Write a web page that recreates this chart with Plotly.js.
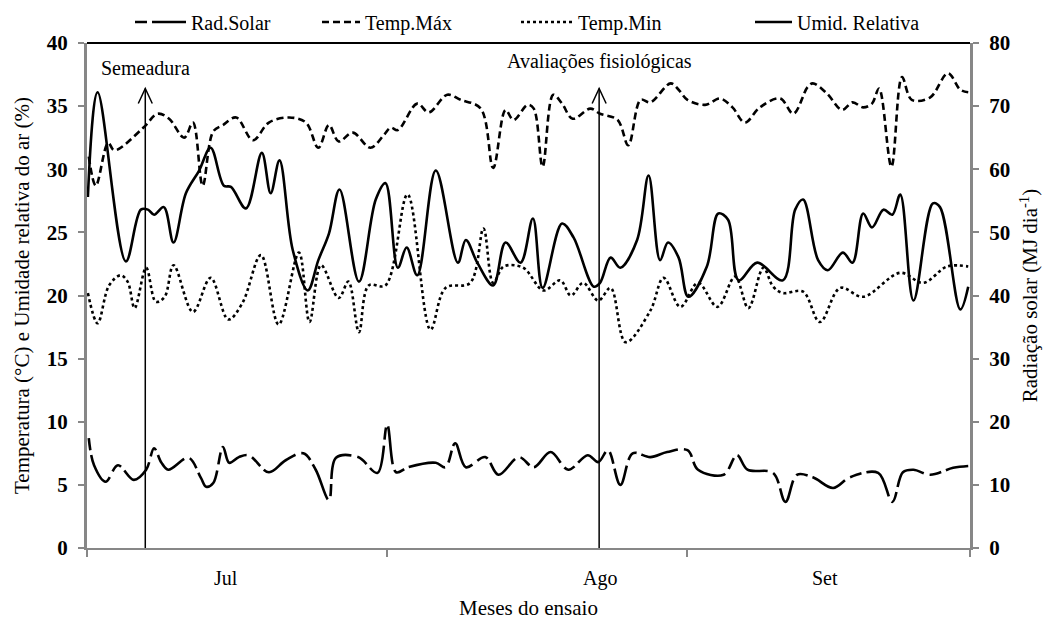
<!DOCTYPE html>
<html><head><meta charset="utf-8">
<script src="https://cdn.plot.ly/plotly-3.0.1.min.js"></script>
<style>body{margin:0;background:#fff}#chart{width:1049px;height:623px}</style>
</head><body><div id="chart"></div><script>
// ---- data (day index from start of the trial) ----
const radDays = [0.2,0.8,2.1,3.5,5.3,6.7,7.6,8.4,9.2,11.5,12.9,13.5,14.3,15.4,16.1,17.2,18.3,20.6,22.5,24.5,25.9,27.4,28.2,30.7,32.9,34.0,35.0,36.4,39.5,40.6,41.7,42.9,45.1,46.6,48.9,50.6,52.5,54.5,56.7,57.9,59.0,60.4,61.8,63.8,65.7,68.0,69.2,72.1,73.6,74.8,77.7,79.1,80.4,82.2,84.5,86.4,89.6,91.2,92.4,93.6,95.5,98.1,99.8];
const radVals = [17.4,13.1,10.5,13.1,10.8,12.4,15.8,13.6,12.4,14.3,11.1,9.7,10.3,16.0,13.5,14.4,14.7,12.0,13.9,15.0,12.4,7.6,14.3,14.4,11.9,19.5,12.0,12.8,13.5,12.8,16.6,12.8,14.4,11.6,14.4,12.8,15.2,12.4,14.7,13.6,15.5,10.0,15.0,14.4,15.2,15.5,12.4,11.6,14.7,12.4,11.9,7.3,11.6,11.2,9.5,11.2,11.9,7.3,12.0,12.4,11.6,12.7,13.0];

const tmaxDays = [0.2,1.0,2.4,3.1,6.4,8.0,9.3,11.0,12.0,13.1,14.3,15.4,16.9,18.8,20.6,22.9,24.8,26.2,27.4,28.5,30.1,32.1,33.6,34.4,35.2,37.4,38.7,40.8,42.3,44.6,46.0,47.4,48.3,49.9,50.6,51.6,52.8,53.8,55.0,57.0,58.1,60.1,61.3,62.7,63.8,66.1,67.0,68.0,70.0,71.7,73.1,74.5,76.2,78.5,80.0,81.6,82.2,83.8,85.5,86.7,87.9,88.9,89.7,91.1,92.3,93.4,95.5,97.5,98.9,99.8];
const tmaxVals = [31.0,28.7,32.1,31.5,33.3,34.4,34.0,32.5,33.7,28.7,33.0,33.5,34.1,32.3,33.7,34.1,33.7,31.7,33.5,32.2,32.9,31.7,32.7,33.3,33.1,35.2,34.5,35.9,35.5,34.8,30.1,34.7,33.9,35.1,34.8,30.2,35.9,35.2,34.0,34.8,34.4,33.9,31.9,35.5,35.3,36.8,36.3,35.5,35.1,35.6,34.9,33.7,34.9,35.6,34.4,36.5,36.8,36.0,34.7,35.3,34.9,35.2,36.4,30.2,37.3,35.5,35.7,37.6,36.3,36.1];

const tminDays = [0.1,1.2,2.5,3.8,4.6,5.4,6.7,7.8,8.8,9.8,12.0,14.0,16.0,17.6,19.7,21.7,24.0,25.2,26.5,28.5,29.6,30.8,31.9,33.8,36.3,38.9,40.6,43.4,44.9,46.0,47.2,49.4,51.7,53.6,54.8,56.2,57.9,59.3,61.0,63.8,65.3,67.2,69.2,71.4,73.4,74.9,76.6,77.7,78.8,81.1,83.0,85.3,87.9,92.1,94.7,97.4,99.8];
const tminVals = [20.2,17.8,20.8,21.6,21.1,19.0,22.2,19.5,19.9,22.4,18.7,21.4,18.1,19.4,23.2,17.7,23.4,17.9,22.4,19.8,21.1,17.1,20.8,20.8,28.0,17.3,20.6,21.0,25.3,21.0,22.3,22.2,20.4,21.2,20.0,21.0,19.6,20.6,16.3,18.8,21.4,19.1,21.0,19.1,21.5,19.0,22.2,20.7,20.2,20.3,17.9,20.6,19.9,21.8,21.0,22.3,22.3];

const urDays = [0.1,1.2,4.4,6.1,6.9,7.6,8.7,9.8,11.2,12.7,14.0,15.5,16.3,18.0,19.8,20.8,21.8,23.3,25.0,26.2,27.4,28.6,30.8,32.7,33.8,35.2,36.2,37.4,39.5,42.0,42.9,44.2,46.0,47.4,49.1,50.5,51.6,53.8,55.1,57.4,58.1,59.3,60.4,62.3,63.6,64.9,65.8,67.0,68.1,70.2,71.5,72.6,73.8,75.9,78.8,80.2,81.1,82.8,83.9,85.6,86.7,87.9,88.9,90.2,91.2,92.1,93.6,95.8,96.6,98.9,99.8];
const urVals = [27.8,36.1,22.7,26.8,26.8,26.4,27.0,24.2,28.1,29.9,31.7,28.7,28.6,26.9,31.3,28.1,30.7,23.6,20.4,22.8,24.9,28.4,21.1,27.6,28.9,22.2,23.8,21.6,29.9,22.6,24.4,22.6,20.8,24.2,22.6,26.1,20.6,25.7,24.6,20.7,21.0,23.0,22.2,24.4,29.5,22.8,24.2,23.0,19.9,22.3,26.5,26.0,21.2,22.6,21.2,26.8,27.6,22.8,22.0,23.4,22.6,26.5,25.4,26.8,26.4,28.0,19.6,27.3,27.0,18.9,20.7];

const seriesNames = ['Rad.Solar','Temp.Máx','Temp.Min','Umid. Relativa'];
const monthLabels = ['Jul','Ago','Set'];
const monthLabelDays = [15.7,58.1,83.6];
const monthTickDays = [0,34,68,100];
const eventLabels = ['Semeadura','Avaliações fisiológicas'];
const eventDays = [6.6,58.0];

// ---- styling ----
const SERIF = '"Liberation Serif"';
const GRAY = '#878787';
const arrowTop = 36.4;
const lineBase = {shape:'spline', smoothing:1, color:'#000', width:2.6};
// legend placement (one legend box per series, pixel positions along the top)
const W = 1049, H = 623;
const legendLeftPx = [130, 317, 516, 750];
const legendItemW = [51, 38, 52, 37];
const legendMidPx = 22;

const traces = [
  {x:radDays, y:radVals, yaxis:'y2', name:seriesNames[0], legend:'legend', mode:'lines', line:Object.assign({}, lineBase, {dash:'12px,5px,38px,6px'})},
  {x:tmaxDays, y:tmaxVals, name:seriesNames[1], legend:'legend2', mode:'lines', line:Object.assign({}, lineBase, {dash:'7px,4px'})},
  {x:tminDays, y:tminVals, name:seriesNames[2], legend:'legend3', mode:'lines', line:Object.assign({}, lineBase, {dash:'dot'})},
  {x:urDays, y:urVals, name:seriesNames[3], legend:'legend4', mode:'lines', line:Object.assign({}, lineBase)}
];

const shapes = [
  {type:'line', xref:'paper', yref:'paper', x0:0, x1:1, y0:1, y1:1, line:{color:'#000', width:2}}
];
eventDays.forEach(d => {
  shapes.push({type:'line', xref:'x', yref:'y', x0:d, x1:d, y0:0, y1:arrowTop, line:{color:'#000', width:1.5}});
  shapes.push({type:'path', xref:'x', yref:'y', xsizemode:'pixel', ysizemode:'pixel', xanchor:d, yanchor:arrowTop,
               path:'M -7 -15 L 0 0 L 7 -15', line:{color:'#000', width:1.5}});
});

const annotations = [];
eventLabels.forEach((t, i) => {
  annotations.push({text:t, x:eventDays[i], y:[38.0,38.5][i], xref:'x', yref:'y', showarrow:false,
                    xanchor:'center', yanchor:'middle', font:{family:SERIF, size:20, color:'#000'}});
});
monthLabels.forEach((t, i) => {
  annotations.push({text:t, x:monthLabelDays[i], y:-0.06, xref:'x', yref:'paper', showarrow:false,
                    xanchor:'center', yanchor:'middle', font:{family:SERIF, size:20, color:'#000'}});
});

const layout = {
  width:W, height:H,
  margin:{l:87, r:79, t:43, b:75},
  paper_bgcolor:'#fff', plot_bgcolor:'#fff',
  showlegend:true,
  xaxis:{range:[0,100], tickvals:monthTickDays, showticklabels:false, ticks:'outside', ticklen:7,
         tickcolor:GRAY, tickwidth:2, showline:true, linecolor:GRAY, linewidth:2, showgrid:false, zeroline:false,
         title:{text:'Meses do ensaio', font:{family:SERIF, size:21, color:'#000'}, standoff:44}},
  yaxis:{range:[0,40], dtick:5, tick0:0, ticks:'outside', ticklen:6, tickcolor:GRAY, tickwidth:2,
         showline:true, linecolor:GRAY, linewidth:3, showgrid:false, zeroline:false,
         tickfont:{family:SERIF, size:21, color:'#000', weight:'bold'}, ticklabelstandoff:6,
         title:{text:'Temperatura (°C) e Umidade relativa do ar (%)', font:{family:SERIF, size:21, color:'#000'}, standoff:12}},
  yaxis2:{range:[0,80], dtick:10, tick0:0, overlaying:'y', side:'right', ticks:'outside', ticklen:6, tickcolor:GRAY, tickwidth:2,
          showline:true, linecolor:GRAY, linewidth:3, showgrid:false, zeroline:false,
          tickfont:{family:SERIF, size:21, color:'#000', weight:'bold'}, ticklabelstandoff:6,
          title:{text:'Radiação solar (MJ dia<sup>-1</sup>)', font:{family:SERIF, size:21, color:'#000'}, standoff:14}},
  shapes:shapes,
  annotations:annotations
};
['legend','legend2','legend3','legend4'].forEach((k, i) => {
  layout[k] = {orientation:'h', xref:'container', yref:'container', x:legendLeftPx[i]/W, xanchor:'left',
               y:1 - legendMidPx/H, yanchor:'middle',
               itemwidth:legendItemW[i], font:{family:SERIF, size:20, color:'#000'}, bgcolor:'rgba(0,0,0,0)'};
});

Plotly.newPlot('chart', traces, layout, {staticPlot:true, displayModeBar:false});
</script></body></html>
